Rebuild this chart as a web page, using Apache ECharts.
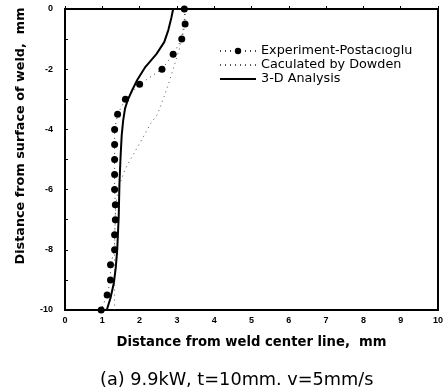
<!DOCTYPE html>
<html>
<head>
<meta charset="utf-8">
<script src="https://cdn.jsdelivr.net/npm/echarts@6/dist/echarts.min.js"></script>
<style>
  html, body { margin: 0; padding: 0; background: #fff; }
  #chart { width: 446px; height: 390px; }
</style>
</head>
<body>
<div id="chart"></div>
<script>
// depth below surface (mm) and distance from centre line (mm)
const expDepth = [0, -0.5, -1, -1.5, -2, -2.5, -3, -3.5, -4, -4.5, -5, -5.5, -6, -6.5, -7, -7.5, -8, -8.5, -9, -9.5, -10];
const expDist = [3.2, 3.22, 3.13, 2.9, 2.6, 2.0, 1.62, 1.41, 1.33, 1.33, 1.33, 1.33, 1.33, 1.35, 1.35, 1.33, 1.33, 1.22, 1.22, 1.13, 0.97];

const dowdenDepth = [0, -0.8, -1.35, -2.4, -2.9, -3.5, -3.8, -4.4, -4.9, -5.3, -5.9, -6.5, -7.2, -8, -10];
const dowdenDist = [3.24, 3.15, 3.06, 2.8, 2.66, 2.48, 2.3, 2.03, 1.8, 1.62, 1.44, 1.36, 1.34, 1.33, 1.33];

const fem3dDepth = [0, -0.3, -0.7, -1.1, -1.5, -1.95, -2.35, -2.7, -3.0, -3.3, -3.7, -4.2, -4.9, -5.8, -6.9, -8, -8.6, -9.1, -9.6, -10];
const fem3dDist = [2.9, 2.85, 2.77, 2.66, 2.45, 2.14, 1.94, 1.8, 1.69, 1.61, 1.56, 1.52, 1.49, 1.46, 1.44, 1.4, 1.36, 1.31, 1.22, 1.12];

const xTicks = { min: 0, max: 10, step: 1 };
const yTicks = { min: -10, max: 0, step: 2 };

const pairs = (xs, ys) => xs.map((x, i) => [x, ys[i]]);

const chart = echarts.init(document.getElementById('chart'));
const font = 'Liberation Sans, Arial, sans-serif';
const wide = 'DejaVu Sans, Verdana, sans-serif';

chart.setOption({
  animation: false,
  textStyle: { fontFamily: font },
  title: {
    text: '(a) 9.9kW, t=10mm. v=5mm/s',
    left: 95,
    top: 366,
    textStyle: { fontSize: 17.7, fontWeight: 'normal', color: '#000', fontFamily: wide }
  },
  grid: {
    left: 65, right: 8, top: 9, bottom: 80,
    show: true, borderColor: '#000', borderWidth: 2, backgroundColor: '#fff'
  },
  legend: {
    orient: 'vertical',
    left: 214,
    top: 39,
    itemWidth: 36,
    itemHeight: 8,
    itemGap: 0,
    textStyle: { fontSize: 12.8, lineHeight: 14, color: '#000', fontFamily: wide },
    data: [
      { name: 'Experiment-Postacıoglu' },
      { name: 'Caculated by Dowden', itemStyle: { opacity: 0 } },
      { name: '3-D Analysis', itemStyle: { opacity: 0 } }
    ]
  },
  xAxis: {
    type: 'value',
    min: xTicks.min, max: xTicks.max, interval: xTicks.step,
    name: 'Distance from weld center line,  mm',
    nameLocation: 'middle',
    nameGap: 26,
    nameTextStyle: { fontSize: 13.2, fontWeight: 'bold', color: '#000', fontFamily: wide },
    axisLine: { lineStyle: { color: '#000', width: 2 } },
    axisTick: { inside: true, length: 3, lineStyle: { color: '#000' } },
    axisLabel: { fontSize: 9, fontWeight: 'bold', color: '#000', margin: 6 },
    splitLine: { show: false }
  },
  yAxis: {
    type: 'value',
    min: yTicks.min, max: yTicks.max, interval: yTicks.step,
    name: 'Distance from surface of weld,  mm',
    nameLocation: 'middle',
    nameGap: 38,
    nameTextStyle: { fontSize: 12.8, fontWeight: 'bold', color: '#000', fontFamily: wide, padding: [0, 0, 0, 47] },
    axisLine: { lineStyle: { color: '#000', width: 2 } },
    axisTick: { inside: true, length: 3, lineStyle: { color: '#000' } },
    minorTick: { show: true, splitNumber: 2, length: 3, lineStyle: { color: '#000' } },
    axisLabel: { fontSize: 9, fontWeight: 'bold', color: '#000', margin: 12 },
    splitLine: { show: false }
  },
  series: [
    {
      name: 'Experiment-Postacıoglu',
      type: 'line',
      data: pairs(expDist, expDepth),
      symbol: 'circle',
      symbolSize: 7,
      itemStyle: { color: '#000' },
      lineStyle: { color: '#444', width: 1, type: [1, 4] },
      z: 3
    },
    {
      name: 'Caculated by Dowden',
      type: 'line',
      data: pairs(dowdenDist, dowdenDepth),
      showSymbol: false,
      itemStyle: { color: '#555' },
      lineStyle: { color: '#555', width: 1, type: [1, 4] }
    },
    {
      name: '3-D Analysis',
      type: 'line',
      data: pairs(fem3dDist, fem3dDepth),
      showSymbol: false,
      itemStyle: { color: '#000' },
      lineStyle: { color: '#000', width: 2 }
    }
  ]
});
</script>
</body>
</html>
